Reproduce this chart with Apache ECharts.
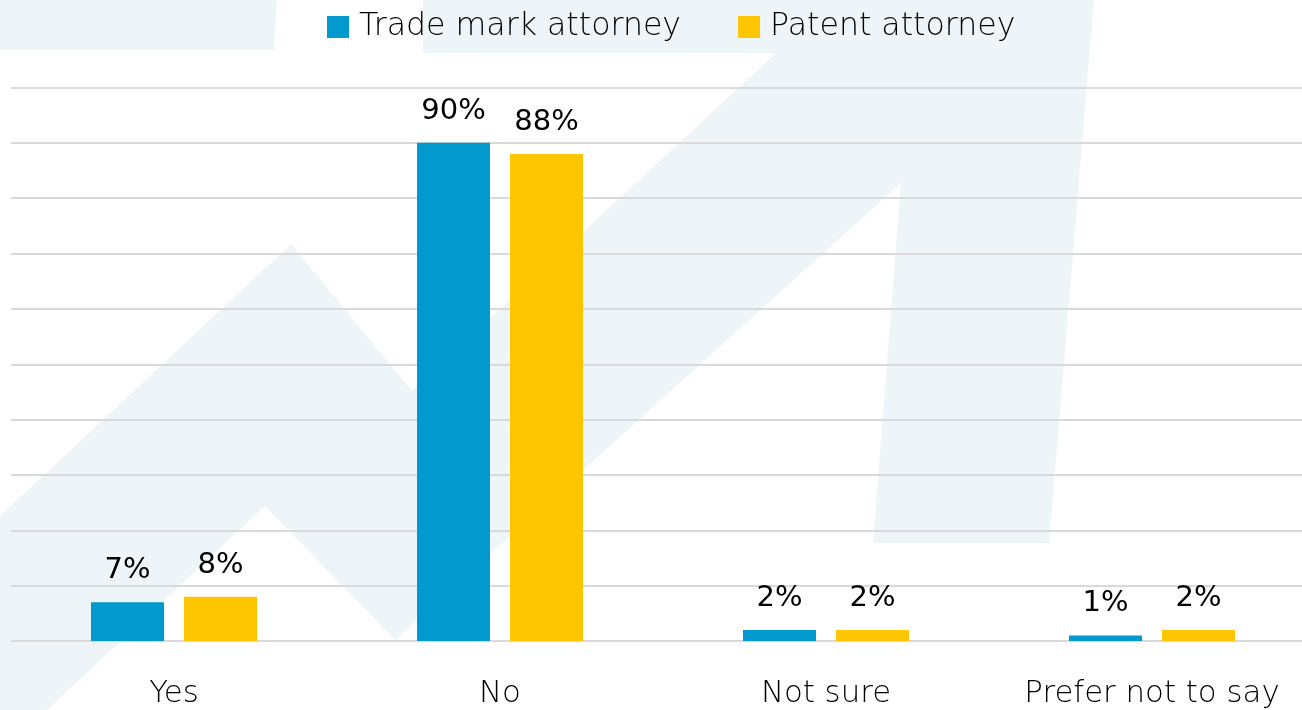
<!DOCTYPE html>
<html>
<head>
<meta charset="utf-8">
<style>
  html, body { margin: 0; padding: 0; background: #ffffff; }
  #chart { width: 1302px; height: 710px; }
</style>
<script src="https://cdn.jsdelivr.net/npm/echarts@6/dist/echarts.min.js"></script>
</head>
<body>
<div id="chart"></div>
<script>
// Survey answers, in percent
const categories = ['Yes', 'No', 'Not sure', 'Prefer not to say'];
const tradeMark = [7, 90, 2, 1];
const patent = [8, 88, 2, 2];
const seriesNames = ['Trade mark attorney', 'Patent attorney'];

const BLUE = '#0299cf';
const YELLOW = '#fdc600';
const WASH = '#edf5f9';
const INK = '#000000';
const FONT = '"DejaVu Sans", sans-serif';

// Pale brand mark drawn behind the plot
const backdrop = [
  [[0, 0], [277, 0], [274, 50], [0, 50]],
  [[423, 0], [1094, 0], [1049, 543], [873, 543], [901, 183], [395, 640],
   [265, 506], [47, 710], [0, 710], [0, 516], [291, 244], [412, 391],
   [776, 53], [423, 53]]
];

const chart = echarts.init(document.getElementById('chart'), null, { renderer: 'canvas' });

const valueLabel = {
  show: true,
  position: 'top',
  distance: 17,
  formatter: '{c}%',
  color: INK,
  fontFamily: FONT,
  fontSize: 29,
  fontWeight: 400
};

chart.setOption({
  backgroundColor: '#ffffff',
  animation: false,
  graphic: backdrop.map(pts => ({
    type: 'polygon',
    z: -100,
    silent: true,
    shape: { points: pts },
    style: { fill: WASH }
  })),
  legend: {
    data: seriesNames,
    left: 322,
    top: 6,
    icon: 'rect',
    itemWidth: 22,
    itemHeight: 22,
    itemGap: 57,
    textStyle: {
      color: INK,
      fontFamily: FONT,
      fontSize: 31.6,
      fontWeight: 200,
      padding: [0, 0, 0, 5]
    }
  },
  grid: {
    left: 11, top: 87.5, width: 1304, bottom: 69,
    containLabel: false, outerBoundsMode: 'none'
  },
  xAxis: {
    type: 'category',
    data: categories,
    axisLine: { show: false },
    axisTick: { show: false },
    axisLabel: {
      interval: 0,
      margin: 37,
      color: INK,
      fontFamily: FONT,
      fontSize: 30.8,
      fontWeight: 200
    }
  },
  yAxis: {
    type: 'value',
    min: 0,
    max: 100,
    interval: 10,
    axisLabel: { show: false },
    axisLine: { show: false },
    axisTick: { show: false },
    splitLine: { lineStyle: { color: '#d9d9d9', width: 2 } }
  },
  series: [
    {
      name: seriesNames[0],
      type: 'bar',
      data: tradeMark,
      barWidth: 73,
      barGap: '27.4%',
      itemStyle: { color: BLUE },
      label: valueLabel
    },
    {
      name: seriesNames[1],
      type: 'bar',
      data: patent,
      barWidth: 73,
      barGap: '27.4%',
      itemStyle: { color: YELLOW },
      label: valueLabel
    }
  ]
});
</script>
</body>
</html>
